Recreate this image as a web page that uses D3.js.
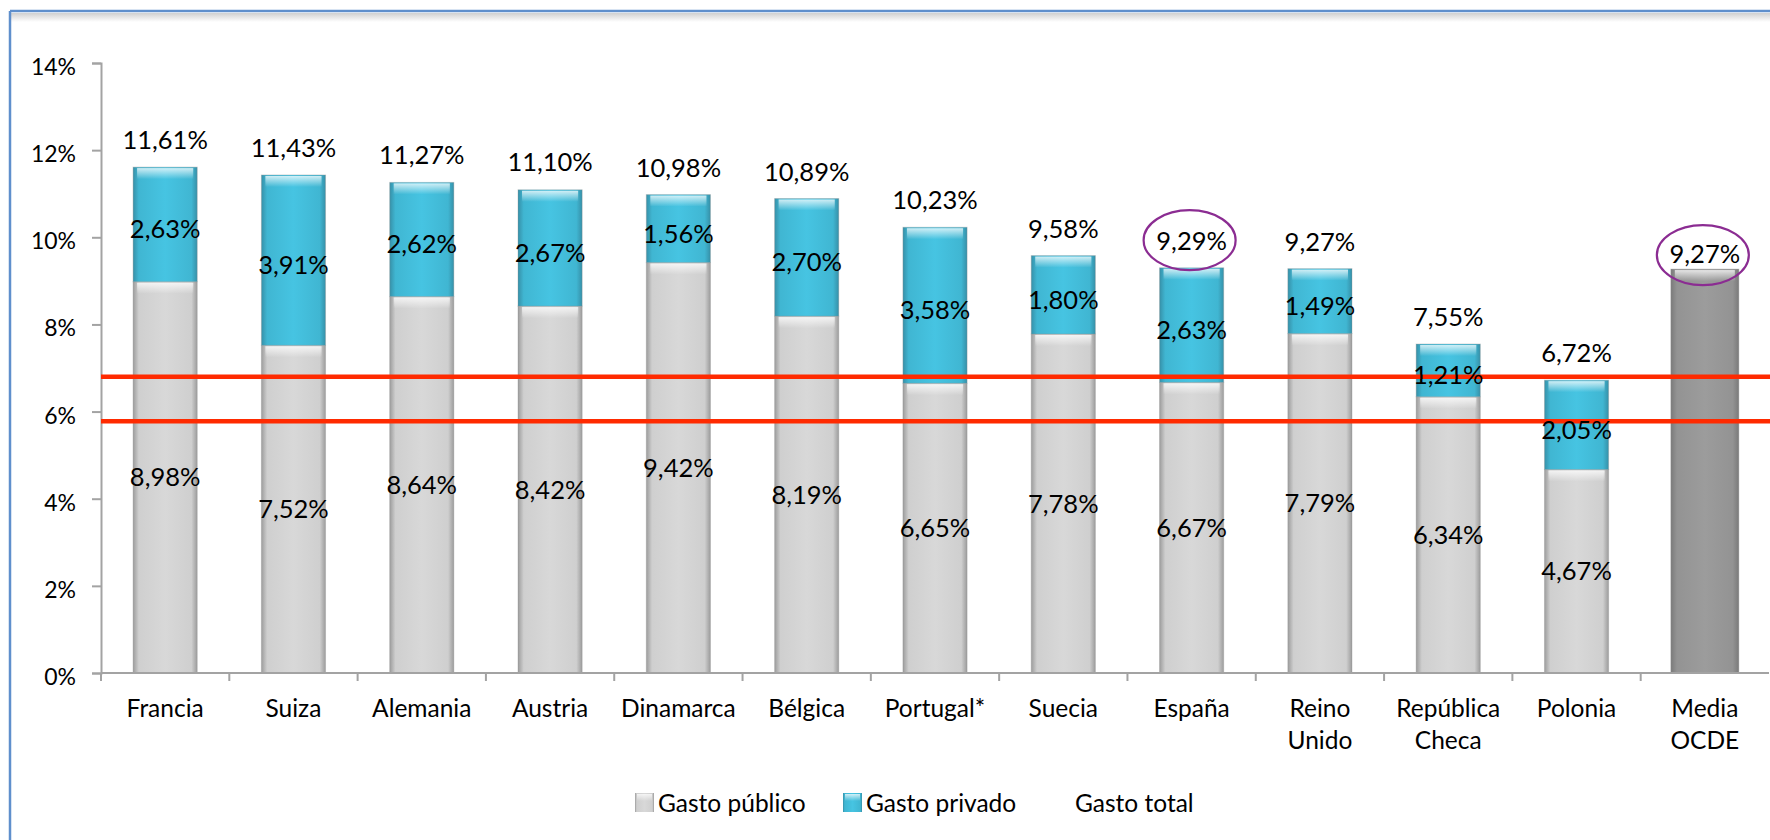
<!DOCTYPE html>
<html>
<head>
<meta charset="utf-8">
<script src="https://cdn.jsdelivr.net/npm/d3@7"></script>
<style>
  body { margin: 0; background: #fff; }
  svg text { font-family: Lato, "Open Sans", sans-serif; fill: #000; }
</style>
</head>
<body>
<div id="chart"></div>
<script>
const width = 1770;
const height = 840;

// Data
const categories = ["Francia", "Suiza", "Alemania", "Austria", "Dinamarca", "Bélgica",
  "Portugal*", "Suecia", "España", "Reino Unido", "República Checa", "Polonia", "Media OCDE"];
const gastoPublico = [8.98, 7.52, 8.64, 8.42, 9.42, 8.19, 6.65, 7.78, 6.67, 7.79, 6.34, 4.67, 9.27];
const gastoPrivado = [2.63, 3.91, 2.62, 2.67, 1.56, 2.70, 3.58, 1.80, 2.63, 1.49, 1.21, 2.05, 0];
const gastoTotal = [11.61, 11.43, 11.27, 11.10, 10.98, 10.89, 10.23, 9.58, 9.29, 9.27, 7.55, 6.72, 9.27];
const yTicks = [0, 2, 4, 6, 8, 10, 12, 14];
const refLines = [6.8, 5.78];
const highlighted = ["España", "Media OCDE"];
const legendItems = ["Gasto público", "Gasto privado", "Gasto total"];

const fmt = v => v.toFixed(2).replace(".", ",") + "%";

const svg = d3.select("#chart").append("svg")
    .attr("width", width)
    .attr("height", height)
    .attr("viewBox", [0, 0, width, height]);

const defs = svg.append("defs");

// horizontal gradient for the bevelled bar sides
function sideGradient(id, edge, mid, center) {
    const g = defs.append("linearGradient").attr("id", id)
        .attr("x1", "0").attr("x2", "1").attr("y1", "0").attr("y2", "0");
    g.append("stop").attr("offset", "0%").attr("stop-color", edge);
    g.append("stop").attr("offset", "9%").attr("stop-color", mid);
    g.append("stop").attr("offset", "50%").attr("stop-color", center);
    g.append("stop").attr("offset", "91%").attr("stop-color", mid);
    g.append("stop").attr("offset", "100%").attr("stop-color", edge);
}
sideGradient("gPub", "#9c9c9c", "#cfcfcf", "#d8d8d8");
sideGradient("gPriv", "#3690a8", "#40b6d2", "#46c4e2");
sideGradient("gOcde", "#7a7a7a", "#939393", "#9c9c9c");

// top highlight
const topG = defs.append("linearGradient").attr("id", "gTop")
    .attr("x1", "0").attr("x2", "0").attr("y1", "0").attr("y2", "1");
topG.append("stop").attr("offset", "0%").attr("stop-color", "#fff").attr("stop-opacity", 0.75);
topG.append("stop").attr("offset", "100%").attr("stop-color", "#fff").attr("stop-opacity", 0);

const shadowG = defs.append("linearGradient").attr("id", "gShadow")
    .attr("x1", "0").attr("x2", "0").attr("y1", "0").attr("y2", "1");
shadowG.append("stop").attr("offset", "0%").attr("stop-color", "#d0d0d0");
shadowG.append("stop").attr("offset", "100%").attr("stop-color", "#fff");

// chart border (clipped on the right like the reference)
svg.append("rect").attr("x", 11).attr("y", 13).attr("width", width).attr("height", 9)
    .attr("fill", "url(#gShadow)");
svg.append("line").attr("x1", 10).attr("x2", width).attr("y1", 11).attr("y2", 11)
    .attr("stroke", "#5f8fcc").attr("stroke-width", 2.5);
svg.append("line").attr("x1", 10).attr("x2", 10).attr("y1", 11).attr("y2", height)
    .attr("stroke", "#5f8fcc").attr("stroke-width", 2.5);

// Scales
const x = d3.scaleBand()
    .domain(categories)
    .range([101, 1769])
    .paddingInner(0.5)
    .paddingOuter(0.25);

const y = d3.scaleLinear()
    .domain([0, 14])
    .range([673, 63]);

// y axis
const yAxis = svg.append("g")
    .attr("transform", "translate(101,0)")
    .call(d3.axisLeft(y).tickValues(yTicks).tickFormat(d => d + "%").tickSize(9).tickPadding(16));
yAxis.select(".domain").attr("stroke", "#a3a3a3").attr("stroke-width", 2);
yAxis.selectAll(".tick line").attr("stroke", "#a3a3a3").attr("stroke-width", 2);
yAxis.selectAll(".tick text")
    .style("font-size", "23px")
    .style("font-family", "Lato, sans-serif")
    .attr("dy", "0.5em")
    .attr("fill", "#000");

// bars
const rows = categories.map((c, i) => ({
    cat: c, pub: gastoPublico[i], priv: gastoPrivado[i], total: gastoTotal[i],
    ocde: c === "Media OCDE"
}));

const barG = svg.append("g");
const bw = x.bandwidth();

function bevelBar(g, x0, yTop, yBot, fill, w) {
    g.append("rect")
        .attr("x", x0).attr("y", yTop)
        .attr("width", w).attr("height", yBot - yTop)
        .attr("fill", fill)
        .attr("stroke", "#8f8f8f").attr("stroke-opacity", 0.35).attr("stroke-width", 1);
    g.append("rect")
        .attr("x", x0 + 4).attr("y", yTop + 1)
        .attr("width", w - 8).attr("height", Math.min(11, yBot - yTop - 2))
        .attr("fill", "url(#gTop)");
}

rows.forEach(d => {
    const g = barG.append("g");
    if (d.ocde) {
        const w = bw * 1.06;
        bevelBar(g, x(d.cat) + bw / 2 - w / 2, y(d.pub), y(0), "url(#gOcde)", w);
    } else {
        bevelBar(g, x(d.cat), y(d.pub), y(0), "url(#gPub)", bw);
        bevelBar(g, x(d.cat), y(d.pub + d.priv), y(d.pub), "url(#gPriv)", bw);
    }
});

// x axis
const axisY = y(0);
svg.append("line")
    .attr("x1", 101).attr("x2", 1769)
    .attr("y1", axisY).attr("y2", axisY)
    .attr("stroke", "#a3a3a3").attr("stroke-width", 2);
const boundaries = categories.map(c => x(c) - x.step() * 0.25);
svg.append("g").selectAll("line")
    .data(boundaries)
    .enter().append("line")
    .attr("x1", d => d).attr("x2", d => d)
    .attr("y1", axisY).attr("y2", axisY + 8)
    .attr("stroke", "#a3a3a3").attr("stroke-width", 2);

const catLabel = svg.append("g").selectAll("text")
    .data(categories)
    .enter().append("text")
    .attr("text-anchor", "middle")
    .style("font-size", "24.5px");
catLabel.each(function(c) {
    const words = c.split(" ");
    const t = d3.select(this);
    words.forEach((w, i) => {
        t.append("tspan")
            .attr("x", x(c) + bw / 2)
            .attr("y", 717 + i * 32)
            .text(w);
    });
});

// red reference lines
svg.append("g").selectAll("line")
    .data(refLines)
    .enter().append("line")
    .attr("x1", 101).attr("x2", width)
    .attr("y1", d => y(d)).attr("y2", d => y(d))
    .attr("stroke", "#ff2a00").attr("stroke-width", 4.5);

// value labels
const labelG = svg.append("g").style("font-size", "25.5px").attr("text-anchor", "middle");

rows.forEach(d => {
    const cx = x(d.cat) + bw / 2;
    if (!d.ocde) {
        labelG.append("text")
            .attr("x", cx).attr("y", (y(0) + y(d.pub)) / 2 + 9)
            .text(fmt(d.pub));
        labelG.append("text")
            .attr("x", cx).attr("y", (y(d.pub) + y(d.pub + d.priv)) / 2 + 14)
            .text(fmt(d.priv));
        labelG.append("text")
            .attr("x", cx).attr("y", y(d.total) - 18)
            .text(fmt(d.total));
    } else {
        labelG.append("text")
            .attr("x", cx).attr("y", y(d.total) - 6)
            .text(fmt(d.total));
    }
});

// purple circles round the highlighted totals
svg.append("g").selectAll("ellipse")
    .data(rows.filter(d => highlighted.includes(d.cat)))
    .enter().append("ellipse")
    .attr("cx", d => x(d.cat) + bw / 2 - 2)
    .attr("cy", d => d.ocde ? y(d.total) - 14 : y(d.total) - 28)
    .attr("rx", 46)
    .attr("ry", 30)
    .attr("fill", "none")
    .attr("stroke", "#8b2c92")
    .attr("stroke-width", 2.2);

// legend
const legendX = [635, 843, 1052];
const legendFill = ["url(#gPub)", "url(#gPriv)", null];
const legend = svg.append("g");
legendItems.forEach((name, i) => {
    if (legendFill[i]) {
        legend.append("rect")
            .attr("x", legendX[i]).attr("y", 793)
            .attr("width", 19).attr("height", 19)
            .attr("fill", legendFill[i]);
        legend.append("rect")
            .attr("x", legendX[i] + 2).attr("y", 794)
            .attr("width", 15).attr("height", 7)
            .attr("fill", "url(#gTop)");
    }
    legend.append("text")
        .attr("x", legendX[i] + 23)
        .attr("y", 812)
        .style("font-size", "24.5px")
        .text(name);
});
</script>
</body>
</html>
